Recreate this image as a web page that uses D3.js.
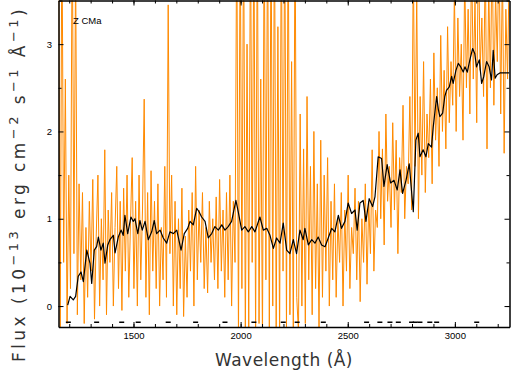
<!DOCTYPE html>
<html>
<head>
<meta charset="utf-8">
<script src="https://cdn.jsdelivr.net/npm/d3@7"></script>
<style>
  html, body { margin: 0; padding: 0; background: #fff; }
  svg { display: block; }
</style>
</head>
<body>
<svg id="svg"></svg>
<script>
// smoothed spectrum (black)
const blackWave = [1193,1204,1219,1230,1242,1255,1266,1282,1297,1305,
  1317,1328,1336,1348,1359,1367,1380,1390,1406,1414,
  1429,1442,1452,1460,1473,1488,1499,1507,1520,1530,
  1541,1554,1569,1585,1597,1608,1624,1639,1655,1670,
  1686,1702,1722,1737,1753,1764,1779,1795,1806,1818,
  1834,1849,1865,1880,1896,1912,1927,1942,1958,1978,
  1989,2005,2020,2036,2052,2067,2090,2106,2122,2137,
  2153,2168,2184,2199,2215,2230,2246,2261,2277,2292,
  2300,2316,2332,2347,2362,2378,2394,2409,2425,2440,
  2456,2471,2487,2502,2518,2534,2544,2557,2572,2585,
  2600,2616,2627,2642,2658,2669,2684,2700,2716,2731,
  2744,2756,2772,2787,2806,2818,2829,2837,2852,2865,
  2876,2891,2899,2915,2923,2930,2943,2953,2961,2974,
  2985,2992,3005,3016,3027,3039,3047,3058,3070,3083,
  3093,3101,3114,3125,3135,3148,3160,3171,3179,3188,
  3197,3210,3255]
const blackFlux = [0.01,0.11,0.07,0.11,0.34,0.39,0.28,0.64,0.49,0.26,
  0.64,0.68,0.79,0.64,0.72,0.49,0.70,0.76,0.81,0.61,
  0.79,0.87,0.81,1.04,0.83,1.02,0.97,1.00,0.83,0.98,
  0.87,0.97,0.76,0.85,0.98,0.83,0.87,0.78,0.72,0.85,
  0.83,0.87,0.64,0.83,0.89,0.97,0.93,1.12,1.08,1.02,
  0.97,0.78,0.83,0.91,0.87,0.93,0.87,0.91,0.97,1.21,
  1.08,0.87,0.91,0.85,0.91,0.85,1.02,0.87,0.89,0.81,
  0.66,0.78,0.72,0.95,0.64,0.60,0.76,0.60,0.87,0.76,
  0.89,0.70,0.76,0.72,0.79,0.70,0.68,0.78,0.89,0.85,
  1.04,0.89,0.97,1.18,1.06,1.10,0.87,1.18,1.21,0.97,
  1.23,1.14,1.25,1.71,1.69,1.37,1.62,1.41,1.44,1.33,
  1.56,1.29,1.44,1.63,1.08,1.90,1.98,1.71,1.79,1.71,
  1.86,1.82,2.05,2.40,2.25,2.17,2.21,2.40,2.47,2.51,
  2.63,2.55,2.70,2.78,2.74,2.68,2.74,2.68,2.82,2.95,
  2.89,2.74,2.82,2.55,2.63,2.80,2.74,2.59,2.93,2.61,
  2.65,2.67,2.67]

// raw spectrum (orange), 8 A bins from 1150 A
const orangeWave = d3.range(1150, 3255, 8)
const orangeFlux = [
  4.2,-0.3,4.5,0.5,2.6,-0.2,1.5,0.2,4.5,0.6,4.0,
  -0.1,1.4,0.3,1.3,-0.2,0.9,0.1,1.2,0.4,1.45,-0.15,0.8,1.5,0.0,1.0,0.3,1.79,-0.1,1.1,0.5,
  1.3,0.0,0.9,1.6,0.2,1.2,-0.05,1.35,0.4,1.5,0.1,0.95,1.7,
  0.2,1.2,0.0,1.5,0.3,1.1,2.37,0.1,1.3,-0.1,1.55,0.4,1.2,0.2,1.4,0.0,0.9,0.3,1.6,0.1,
  3.45,0.6,1.5,0.0,1.2,-0.1,1.0,0.2,1.35,-0.12,0.8,0.1,1.1,0.4,1.3,0.0,1.6,0.3,1.1,0.5,
  1.3,0.2,0.9,0.15,1.2,0.5,1.0,0.3,1.25,0.2,1.45,0.4,1.1,0.1,1.3,0.3,1.5,0.0,1.2,0.5,
  4.5,-0.4,4.5,0.2,4.5,-0.4,3.0,-0.3,4.5,0.5,4.5,-0.4,4.5,-0.2,2.6,-0.4,4.5,0.3,
  4.5,-0.4,4.5,0.0,4.5,-0.3,3.2,-0.4,4.5,0.4,4.5,-0.3,4.5,-0.1,2.8,-0.4,4.5,0.1,
  -0.3,2.2,0.0,1.8,-0.2,2.4,0.3,1.6,-0.1,2.0,0.2,1.4,-0.25,1.9,0.1,1.5,0.4,1.7,0.0,
  1.2,0.3,1.4,0.1,1.0,0.5,1.3,0.0,1.1,0.4,1.5,0.2,0.9,0.6,1.35,0.3,1.2,0.05,1.0,0.5,
  1.4,0.25,1.2,0.6,1.79,0.4,1.1,0.9,
  2.0,1.0,1.8,0.7,2.2,1.2,1.6,0.9,2.1,1.1,1.9,0.6,1.7,1.3,2.3,1.0,1.6,1.4,2.4,1.1,
  4.0,1.6,3.6,1.0,2.4,1.5,2.8,1.3,2.2,1.7,2.6,1.4,2.9,1.9,2.5,1.6,3.1,2.0,2.7,1.8,
  3.2,2.1,2.8,2.3,3.6,2.0,3.3,2.4,3.0,1.9,3.8,2.5,3.4,2.2,4.0,2.6,3.5,2.1,4.2,2.7,
  3.3,2.4,4.0,1.8,3.7,2.5,4.2,2.3,3.6,2.8,4.2,2.2,3.9,1.75,3.4,2.6,4.0]

// bad-pixel flags along the bottom
const flagWave = [1196,1328,1445,1522,1662,1790,1927,2062,2199,2264,2386,
  2588,2650,2697,2736,2798,2815,2837,2883,2915,3102]
const flagLevel = -0.185

const xMajor = [1500, 2000, 2500, 3000]
const xMinor = d3.range(1200, 3255, 100)
const yMajor = [0, 1, 2, 3]
const yMinor = [-0.0, 0.5, 1.5, 2.5, 3.5]

const width = 511, height = 372
const frame = { left: 58.5, right: 509.5, top: 0.5, bottom: 327 }

const svg = d3.select('#svg').attr('width', width).attr('height', height)

const x = d3.scaleLinear().domain([1150, 3255]).range([frame.left, frame.right])
const y = d3.scaleLinear().domain([-0.24, 3.5]).range([frame.bottom, frame.top])

svg.append('clipPath').attr('id', 'plot-clip')
  .append('rect')
  .attr('x', frame.left).attr('y', frame.top)
  .attr('width', frame.right - frame.left).attr('height', frame.bottom - frame.top)

const plot = svg.append('g').attr('clip-path', 'url(#plot-clip)')

plot.append('path')
  .datum(orangeFlux)
  .attr('fill', 'none')
  .attr('stroke', '#ff8a00')
  .attr('stroke-width', 1)
  .attr('d', d3.line().x((d, i) => x(orangeWave[i])).y(d => y(d)))

plot.append('path')
  .datum(blackFlux)
  .attr('fill', 'none')
  .attr('stroke', '#000')
  .attr('stroke-width', 1.2)
  .attr('stroke-linejoin', 'round')
  .attr('d', d3.line().x((d, i) => x(blackWave[i])).y(d => y(d)))

plot.selectAll('.flag')
  .data(flagWave)
  .join('line')
  .attr('class', 'flag')
  .attr('x1', d => x(d) - 2.5).attr('x2', d => x(d) + 2.5)
  .attr('y1', y(flagLevel)).attr('y2', y(flagLevel))
  .attr('stroke', '#000')
  .attr('stroke-width', 1.5)

// axes, ticks pointing inward
const styleAxis = g => {
  g.select('.domain').attr('stroke', '#000').attr('stroke-width', 1.5)
  g.selectAll('.tick line').attr('stroke', '#000').attr('stroke-width', 1)
  g.selectAll('.tick text')
    .attr('font-family', '"Liberation Sans", Arial, sans-serif')
    .attr('font-size', 9.5)
    .attr('fill', '#000')
}

svg.append('g').attr('transform', `translate(0,${frame.bottom})`)
  .call(d3.axisBottom(x).tickValues(xMinor).tickSize(-3).tickSizeOuter(0).tickFormat(''))
  .call(g => g.select('.domain').remove())
svg.append('g').attr('transform', `translate(0,${frame.top})`)
  .call(d3.axisTop(x).tickValues(xMinor).tickSize(-3).tickSizeOuter(0).tickFormat(''))
  .call(g => g.select('.domain').remove())
svg.append('g').attr('transform', `translate(${frame.left},0)`)
  .call(d3.axisLeft(y).tickValues(yMinor).tickSize(-3).tickSizeOuter(0).tickFormat(''))
  .call(g => g.select('.domain').remove())
svg.append('g').attr('transform', `translate(${frame.right},0)`)
  .call(d3.axisRight(y).tickValues(yMinor).tickSize(-3).tickSizeOuter(0).tickFormat(''))
  .call(g => g.select('.domain').remove())

svg.append('g').attr('transform', `translate(0,${frame.bottom})`)
  .call(d3.axisBottom(x).tickValues(xMajor).tickSize(-5).tickSizeOuter(0).tickPadding(5.5).tickFormat(d3.format('d')))
  .call(styleAxis)
svg.append('g').attr('transform', `translate(0,${frame.top})`)
  .call(d3.axisTop(x).tickValues(xMajor).tickSize(-5).tickSizeOuter(0).tickFormat(''))
  .call(styleAxis)
svg.append('g').attr('transform', `translate(${frame.left},0)`)
  .call(d3.axisLeft(y).tickValues(yMajor).tickSize(-5).tickSizeOuter(0).tickPadding(6.5).tickFormat(d3.format('d')))
  .call(styleAxis)
svg.append('g').attr('transform', `translate(${frame.right},0)`)
  .call(d3.axisRight(y).tickValues(yMajor).tickSize(-5).tickSizeOuter(0).tickFormat(''))
  .call(styleAxis)

svg.append('text')
  .text('Z CMa')
  .attr('font-family', '"Liberation Sans", Arial, sans-serif')
  .attr('font-size', 9.5)
  .attr('fill', '#000')
  .attr('x', 73)
  .attr('y', 24)

// stretch a label to the width it takes in the original
const fitLength = (text, target) => {
  const node = text.node()
  const n = node.getNumberOfChars()
  const len = node.getComputedTextLength()
  text.attr('letter-spacing', (target - len) / n)
}

const xLabel = svg.append('text')
  .text('Wavelength (Å)')
  .attr('font-family', '"DejaVu Sans", sans-serif')
  .attr('font-size', 17)
  .attr('fill', '#333')
  .attr('text-anchor', 'middle')
  .attr('x', 284)
  .attr('y', 365.5)
fitLength(xLabel, 138)

const yLabel = svg.append('text')
  .attr('font-family', '"DejaVu Sans", sans-serif')
  .attr('font-size', 17)
  .attr('fill', '#333')
  .attr('text-anchor', 'middle')
  .attr('transform', 'translate(25,184) rotate(-90)')

const yParts = [['Flux (10', false], ['\u221213', true], [' erg cm', false], ['\u22122', true],
  [' s', false], ['\u22121', true], [' Å', false], ['\u22121', true], [')', false]]
yParts.forEach(([s, sup], i) => {
  const prevSup = i > 0 && yParts[i - 1][1]
  yLabel.append('tspan')
    .text(s)
    .attr('font-size', sup ? 13 : 17)
    .attr('dy', sup ? '-7' : (prevSup ? '7' : null))
})
fitLength(yLabel, 356)
</script>
</body>
</html>
